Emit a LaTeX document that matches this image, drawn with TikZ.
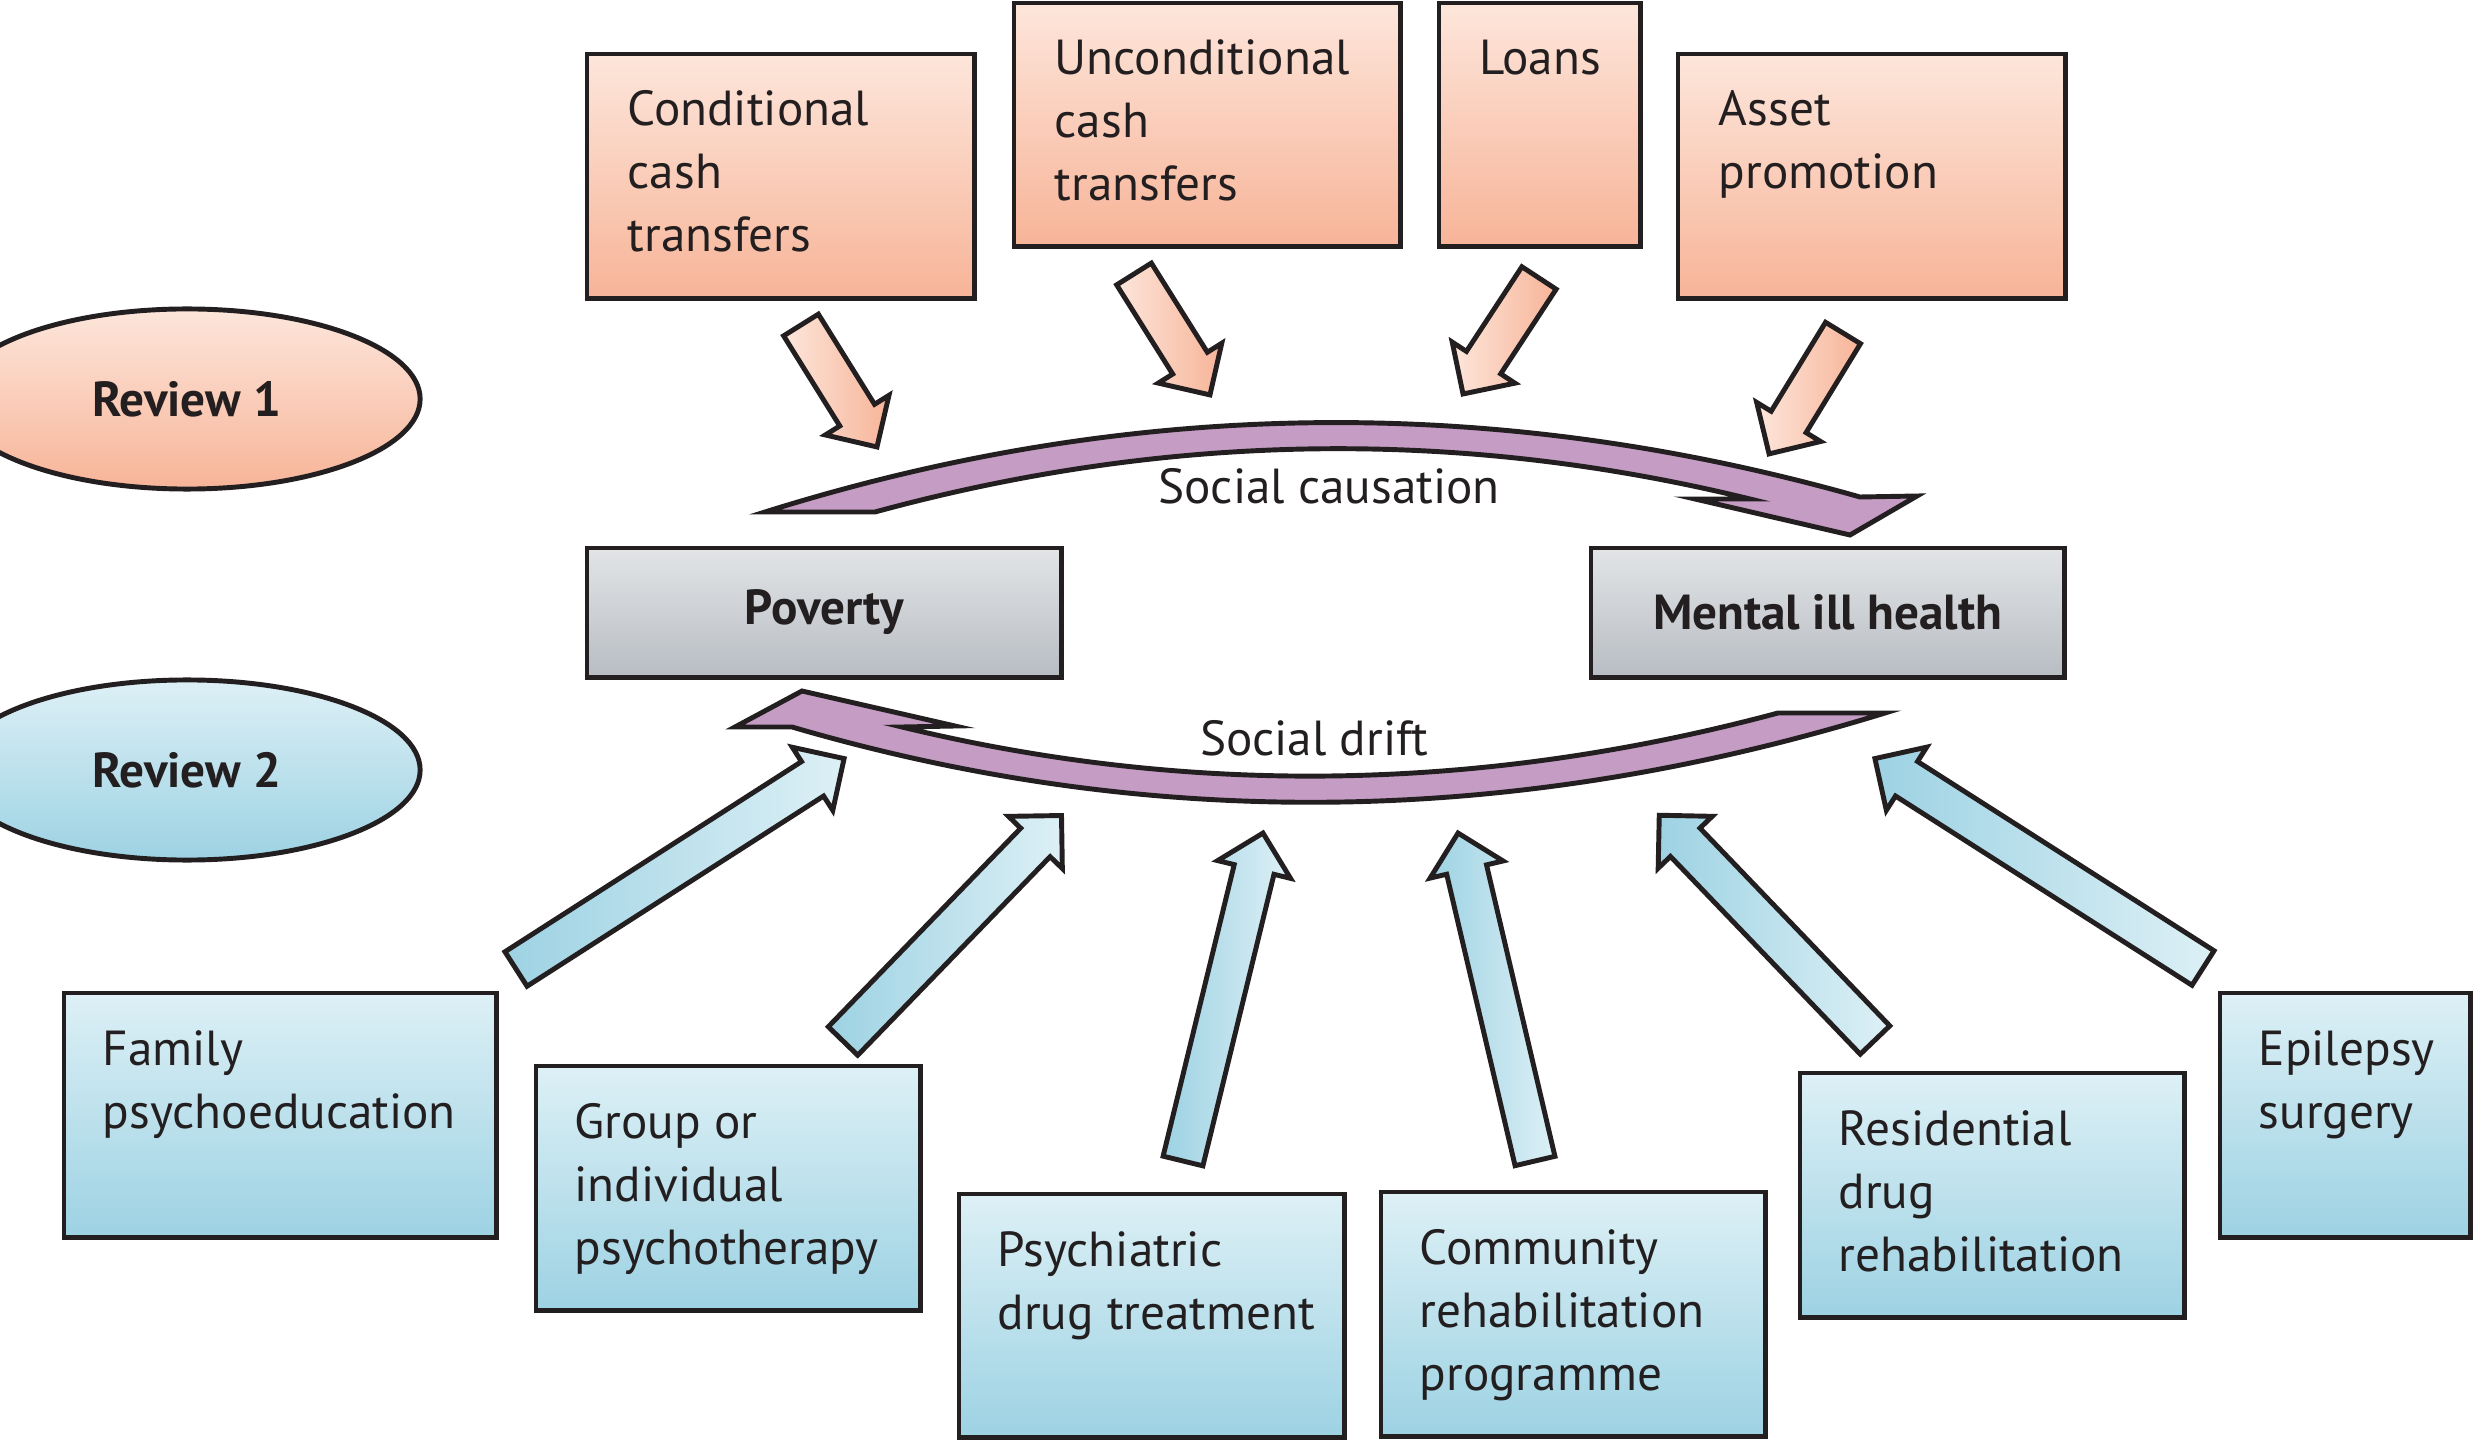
\documentclass[tikz,border=0pt]{standalone}
\usepackage{fontspec}
\setmainfont{PT Sans}
\usetikzlibrary{positioning,shapes.geometric,shapes.arrows,calc}

\definecolor{orL}{HTML}{FDE6DB}
\definecolor{orD}{HTML}{F7B498}
\definecolor{blL}{HTML}{DDF0F6}
\definecolor{blD}{HTML}{9DD2E3}
\definecolor{grL}{HTML}{E2E4E6}
\definecolor{grD}{HTML}{B8BDC3}
\definecolor{purp}{HTML}{C59CC4}
\definecolor{ink}{HTML}{231F20}

\begin{document}
\begin{tikzpicture}[x=0.01cm, y=-0.01cm,
    every node/.style={font=\fontsize{14}{17.9}\selectfont, text=ink},
    box/.style={draw=ink, line width=1.4pt, anchor=north west, inner sep=0pt, outer sep=0pt},
    obox/.style={box, top color=orL, bottom color=orD},
    bbox/.style={box, top color=blL, bottom color=blD},
    gbox/.style={box, top color=grL, bottom color=grD, font=\fontsize{14}{17.9}\selectfont\bfseries},
    txt/.style={align=left, inner sep=0pt},
    review/.style={ellipse, draw=ink, line width=1.4pt, minimum width=4.66cm, minimum height=1.8cm,
        inner sep=0pt, font=\fontsize{14}{17.9}\selectfont\bfseries},
    blockarr/.style={single arrow, draw=ink, line width=1.4pt, inner xsep=0pt, inner ysep=0.18cm,
        single arrow head extend=0.17cm, outer sep=0pt},
    downarr/.style={blockarr, left color=orL, right color=orD},
    uparr/.style={blockarr, left color=blD, right color=blL},
    bigarr/.style={draw=ink, line width=1.4pt, fill=purp, line join=miter}
]
\useasboundingbox (0,0) rectangle (2473,1440);

% reviews
\node[review, top color=orL, bottom color=orD] (rev1) at (187,399) {Review 1};
\node[review, top color=blL, bottom color=blD] (rev2) at (187,770) {Review 2};

% review 1 interventions
\node[obox, minimum width=3.87cm, minimum height=2.44cm] (cct) at (587,54) {};
\node[obox, minimum width=3.86cm, minimum height=2.43cm] (uct) at (1014,3) {};
\node[obox, minimum width=2.01cm, minimum height=2.43cm] (loans) at (1439,3) {};
\node[obox, minimum width=3.87cm, minimum height=2.44cm] (asset) at (1678,54) {};
\node[txt, below right=0.36cm and 0.40cm of cct.north west] (cctT) {Conditional\\cash\\transfers};
\node[txt, below right=0.36cm and 0.40cm of uct.north west] (uctT) {Unconditional\\cash\\transfers};
\node[txt, below right=0.36cm and 0.40cm of loans.north west] (loansT) {Loans};
\node[txt, below right=0.36cm and 0.40cm of asset.north west] (assetT) {Asset\\promotion};

% the two states
\node[gbox, minimum width=4.74cm, minimum height=1.29cm] (pov) at (587,548) {Poverty};
\node[gbox, minimum width=4.73cm, minimum height=1.29cm] (mih) at (1591,548) {Mental ill health};

% review 2 interventions
\node[bbox, minimum width=4.32cm, minimum height=2.44cm] (fam) at (64,993) {};
\node[bbox, minimum width=3.84cm, minimum height=2.44cm] (grp) at (536,1066) {};
\node[bbox, minimum width=3.85cm, minimum height=2.43cm] (drug) at (959,1194) {};
\node[bbox, minimum width=3.84cm, minimum height=2.44cm] (comm) at (1381,1192) {};
\node[bbox, minimum width=3.84cm, minimum height=2.44cm] (resi) at (1800,1073) {};
\node[bbox, minimum width=2.50cm, minimum height=2.44cm] (epi) at (2220,993) {};
\node[txt, below right=0.37cm and 0.38cm of fam.north west] (famT) {Family\\psychoeducation};
\node[txt, below right=0.37cm and 0.38cm of grp.north west] (grpT) {Group or\\individual\\psychotherapy};
\node[txt, below right=0.37cm and 0.38cm of drug.north west] (drugT) {Psychiatric\\drug treatment};
\node[txt, below right=0.37cm and 0.38cm of comm.north west] (commT) {Community\\rehabilitation\\programme};
\node[txt, below right=0.37cm and 0.38cm of resi.north west] (resiT) {Residential\\drug\\rehabilitation};
\node[txt, below right=0.37cm and 0.38cm of epi.north west] (epiT) {Epilepsy\\surgery};

% tails and tips of the block arrows
\coordinate (cctA) at (801,325);   \coordinate (cctB) at (877,447);
\coordinate (uctA) at (1134,274);  \coordinate (uctB) at (1210,395);
\coordinate (loansA) at (1539,278); \coordinate (loansB) at (1463,394);
\coordinate (assetA) at (1843,333); \coordinate (assetB) at (1769,454);
\coordinate (famA) at (516,969);   \coordinate (famB) at (845,758);
\coordinate (grpA) at (843,1041);  \coordinate (grpB) at (1062,815);
\coordinate (drugA) at (1183,1161); \coordinate (drugB) at (1263,833);
\coordinate (commA) at (1535,1161); \coordinate (commB) at (1458,833);
\coordinate (resiA) at (1875,1040); \coordinate (resiB) at (1659,815);
\coordinate (epiA) at (2203,968);  \coordinate (epiB) at (1874,758);

\foreach \a/\b/\s in {cctA/cctB/downarr, uctA/uctB/downarr, loansA/loansB/downarr, assetA/assetB/downarr,
    famA/famB/uparr, grpA/grpB/uparr, drugA/drugB/uparr, commA/commB/uparr, resiA/resiB/uparr, epiA/epiB/uparr}
  \path let \p1=($(\b)-(\a)$), \n1={veclen(\x1,\y1)}, \n2={atan2(\y1,\x1)} in
    node[\s, minimum height=\n1, rotate=\n2, anchor=tail] (\a\b) at (\a) {};

% social causation and social drift
\draw[bigarr] (765,512) .. controls (1128,398) and (1493,393) .. (1860,497)
  -- (1917,496) -- (1850,535) -- (1695,499) -- (1750,499)
  .. controls (1460,428) and (1168,432) .. (875,512) -- cycle;
\draw[bigarr] (1885,713) .. controls (1515,827) and (1151,832) .. (792,727)
  -- (735,727) -- (802,691) -- (955,726) -- (902,727)
  .. controls (1191,797) and (1483,792) .. (1778,713) -- cycle;
\node (caus) at (1329,486) {Social causation};
\node (drift) at (1314,738) {Social drift};
\end{tikzpicture}
\end{document}
